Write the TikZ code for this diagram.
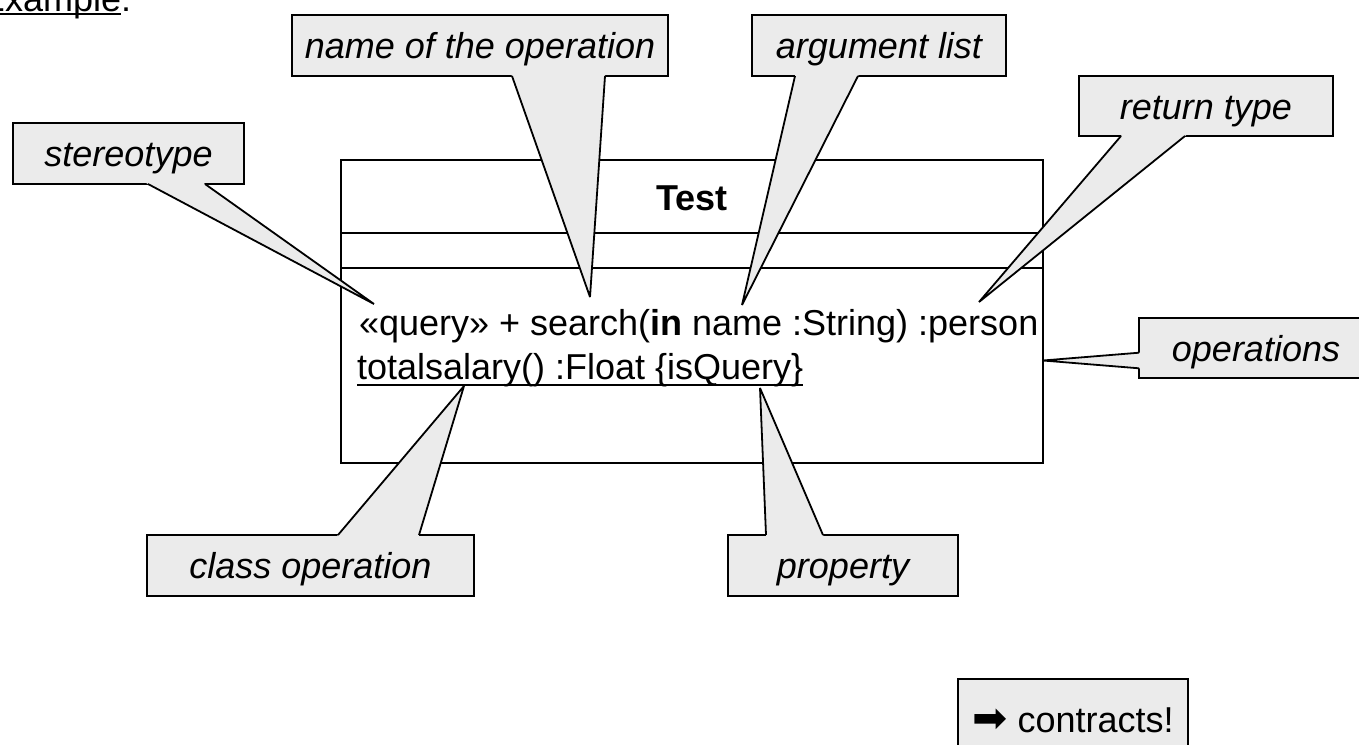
\documentclass[tikz,border=0pt]{standalone}
\usepackage{fontspec}
\setmainfont{Liberation Sans}
\newfontfamily\symfont{DejaVu Sans}
\usetikzlibrary{calc}

\definecolor{calloutgray}{RGB}{235,235,235}

% pointer of a callout: base points <name>-b1, <name>-b2 on the box edge, tip <name>-tip
\newcommand\calloutptr[1]{%
  \fill[calloutgray] ($(#1-b1)!-4pt!(#1-tip)$) -- (#1-tip) -- ($(#1-b2)!-4pt!(#1-tip)$) -- cycle;
  \draw[tipline] (#1-b1) -- (#1-tip) -- (#1-b2);}

\begin{document}
\begin{tikzpicture}[x=1pt, y=-1pt,
  txt/.style={font=\fontsize{36}{43}\selectfont, inner sep=0pt, outer sep=0pt},
  boxline/.style={line width=1.8pt},
  callbox/.style={txt, boxline, draw, fill=calloutgray,
    font=\fontsize{36}{43}\selectfont\itshape,
    text height=32pt, text depth=6pt, minimum height=61pt},
  tipline/.style={boxline, line join=bevel},
]
\useasboundingbox (0,0) rectangle (1359,744);

% slide heading (partly outside the page)
\node (ex) [txt, anchor=base west] at (-19,11) {Example};
\node (excolon) [txt, anchor=base west] at (ex.base east) {:};
\draw[line width=2.5pt] ([yshift=-3pt]ex.base west) -- ([yshift=-3pt]ex.base east);

% the class with its three compartments
\node (cls) [boxline, draw, inner sep=0pt, outer sep=0pt,
  minimum width=702pt, minimum height=303pt] at (692,311.5) {};
\draw[boxline] ([yshift=-73pt]cls.north west) -- ([yshift=-73pt]cls.north east);
\draw[boxline] ([yshift=-108pt]cls.north west) -- ([yshift=-108pt]cls.north east);
\node (title) [txt, anchor=base, font=\fontsize{36}{43}\selectfont\bfseries] at (692,210) {Test};
\node (op1) [txt, anchor=base west] at (359,335)
  {«query» + search(\textbf{in} name :String) :person};
\node (op2) [txt, anchor=base west] at (357,379)
  {totalsalary() :Float \{isQuery\}};
\draw[line width=2pt] ([yshift=-6pt]op2.base west) -- ([yshift=-6pt]op2.base east);

% callout boxes
\node (nameop) [callbox, minimum width=376pt] at (480,45.5) {name of the operation};
\node (argl)   [callbox, minimum width=254pt] at (879,45.5) {argument list};
\node (ret)    [callbox, minimum width=254pt, minimum height=60pt] at (1206,106) {return type};
\node (stereo) [callbox, minimum width=231pt] at (128.5,153.5) {stereotype};
\node (oper)   [callbox, minimum width=234pt, minimum height=60pt] at (1256,348) {operations};
\node (clop)   [callbox, minimum width=327pt] at (310.5,565.5) {class operation};
\node (prop)   [callbox, minimum width=230pt] at (843,565.5) {property};

% pointer geometry
\coordinate (nameop-b1) at ($(nameop.south west)+(220,0)$);
\coordinate (nameop-b2) at ($(nameop.south west)+(313,0)$);
\coordinate (nameop-tip) at (590,297);

\coordinate (argl-b1) at ($(argl.south west)+(43,0)$);
\coordinate (argl-b2) at ($(argl.south west)+(106,0)$);
\coordinate (argl-tip) at (742,305);

\coordinate (ret-b1) at ($(ret.south west)+(42,0)$);
\coordinate (ret-b2) at ($(ret.south west)+(106,0)$);
\coordinate (ret-tip) at (979,302);

\coordinate (stereo-b1) at ($(stereo.south west)+(135,0)$);
\coordinate (stereo-b2) at ($(stereo.south west)+(192,0)$);
\coordinate (stereo-tip) at (374,304);

\coordinate (oper-b1) at ($(oper.north west)+(0,34.7)$);
\coordinate (oper-b2) at ($(oper.north west)+(0,50.3)$);
\coordinate (oper-tip) at (cls.east |- 0,360.5);

\coordinate (clop-b1) at ($(clop.north west)+(191,0)$);
\coordinate (clop-b2) at ($(clop.north west)+(272,0)$);
\coordinate (clop-tip) at (464,386);

\coordinate (prop-b1) at ($(prop.north west)+(38,0)$);
\coordinate (prop-b2) at ($(prop.north west)+(95,0)$);
\coordinate (prop-tip) at (760,388);

\calloutptr{nameop}
\calloutptr{argl}
\calloutptr{ret}
\calloutptr{stereo}
\calloutptr{oper}
\calloutptr{clop}
\calloutptr{prop}

% conclusion box (runs past the lower page edge)
\node (contracts) [txt, boxline, draw, fill=calloutgray, minimum width=230pt,
  minimum height=80pt, text height=32pt, text depth=6pt] at (1073,719)
  {{\symfont\fontsize{42}{46}\selectfont ➡} contracts!};
\end{tikzpicture}
\end{document}
